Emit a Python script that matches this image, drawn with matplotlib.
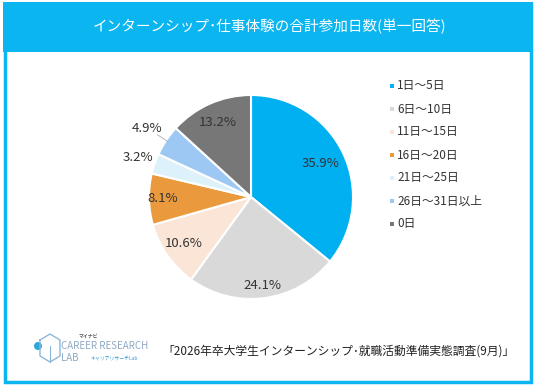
import numpy as np
import matplotlib
matplotlib.use('Agg')
import matplotlib.pyplot as plt
from matplotlib.patches import Rectangle, Circle

plt.rcParams['font.family'] = ['Noto Sans CJK JP', 'DejaVu Sans']

# data
categories = ['1日～5日', '6日～10日', '11日～15日', '16日～20日', '21日～25日', '26日～31日以上', '0日']
shares = [35.9, 24.1, 10.6, 8.1, 3.2, 4.9, 13.2]
colors = ['#00B0F0', '#D9D9D9', '#FBE5D6', '#EA9A3C', '#DDF1FB', '#9DC8F4', '#777777']
title = 'インターンシップ･仕事体験の合計参加日数(単一回答)'
source = '「2026年卒大学生インターンシップ･就職活動準備実態調査(9月)」'

W, H = 536, 385
fig = plt.figure(figsize=(W / 100, H / 100), dpi=100)

# background frame (pixel coords, y down)
bg = fig.add_axes([0, 0, 1, 1])
bg.set_xlim(0, W)
bg.set_ylim(H, 0)
bg.axis('off')
frame_col = '#0BB5F0'
bg.add_patch(Rectangle((4.5, 4), W - 10, H - 7, facecolor='white', edgecolor=frame_col, lw=2.5))
bg.add_patch(Rectangle((3, 2), W - 6, 50, facecolor=frame_col, edgecolor='none'))
bg.text(270, 27, title, color='white', fontsize=10.5, ha='center', va='center')

# legend
for i, (lab, c) in enumerate(zip(categories, colors)):
    y = 86 + i * 23
    bg.add_patch(Rectangle((390, y - 2), 4, 4, facecolor=c, edgecolor='none'))
    bg.text(397, y, lab, fontsize=8.5, color='#333333', va='center', ha='left')

# logo + source
bg.add_patch(Circle((38, 346), 4, facecolor='#2FA6DA', edgecolor='none'))
bg.plot([40, 50, 60, 60, 50, 40, 40], [340, 334, 340, 356, 362, 356, 340], color='#8DB8DA', lw=1)
bg.plot([50, 50], [346, 362], color='#8DB8DA', lw=0.8)
bg.text(79, 336, 'マイナビ', fontsize=3.5, color='#555555', va='center', fontweight='bold')
bg.text(61, 346, 'CAREER RESEARCH', fontsize=7, color='#8FA9C4', va='center', ha='left')
bg.text(61, 358, 'LAB', fontsize=7, color='#8FA9C4', va='center', ha='left')
bg.text(90, 358, 'キャリアリサーチLab', fontsize=3.5, color='#3B9BD6', va='center', ha='left')
bg.text(162, 351, source, fontsize=8.5, color='#222222', va='center', ha='left')

# pie
cx, cy, r = 251, 197, 102
ax = fig.add_axes([(cx - r) / W, (H - cy - r) / H, 2 * r / W, 2 * r / H])
wedges, _ = ax.pie(shares, colors=colors, startangle=90, counterclock=False,
                   wedgeprops=dict(edgecolor='white', linewidth=1.5))
ax.set_xlim(-1, 1)
ax.set_ylim(-1, 1)
ax.set_aspect('auto')

label_r = [0.76, 0.87, 0.80, 0.87, 1.17, 1.22, 0.80]
for w, v, lr in zip(wedges, shares, label_r):
    ang = np.deg2rad((w.theta1 + w.theta2) / 2)
    x, y = lr * np.cos(ang), lr * np.sin(ang)
    ax.text(x, y, f'{v:.1f}%', ha='center', va='center', fontsize=9.5, color='#333333')
    if lr > 1.2:
        ax.plot([0.98 * np.cos(ang), 1.1 * np.cos(ang)], [0.98 * np.sin(ang), 1.1 * np.sin(ang)],
                color='#AAAAAA', lw=0.6, clip_on=False)

fig.savefig('out.png', dpi=100)
